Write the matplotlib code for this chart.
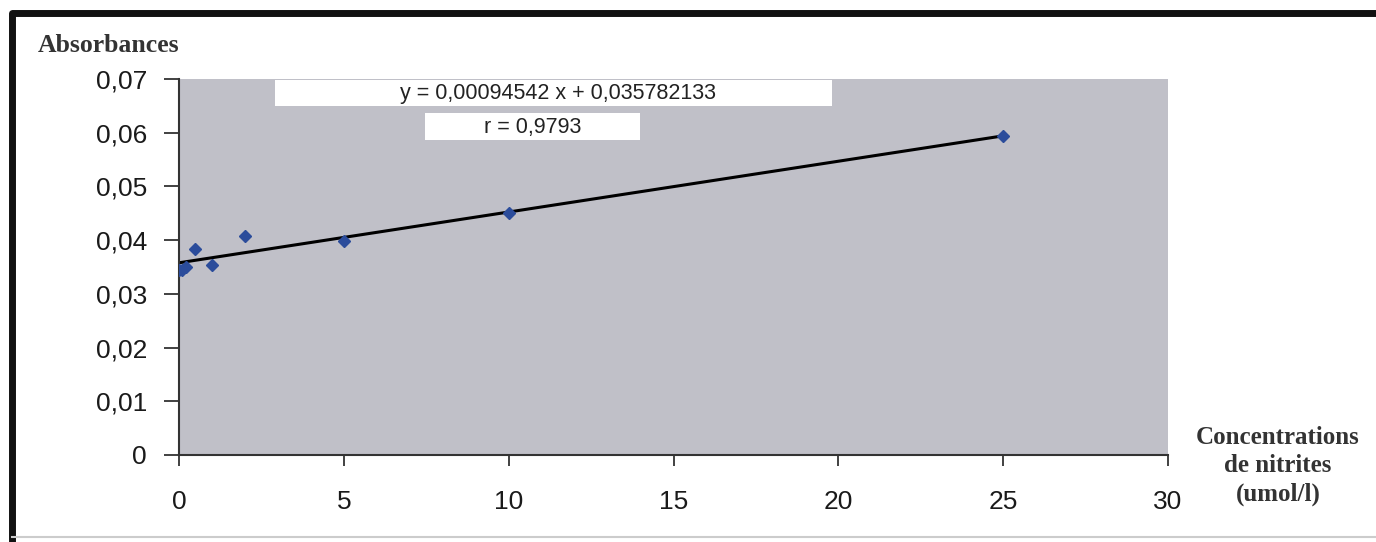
import matplotlib.pyplot as plt
import matplotlib.lines as mlines
import numpy as np

# data
conc = [0, 0.1, 0.2, 0.5, 1, 2, 5, 10, 25]
absorb = [0.0345, 0.0345, 0.035, 0.0383, 0.0354, 0.0408, 0.0399, 0.0451, 0.0594]
slope = 0.00094542
intercept = 0.035782133
r_value = "0,9793"
xticks = [0, 5, 10, 15, 20, 25, 30]
yticks = [0, 0.01, 0.02, 0.03, 0.04, 0.05, 0.06, 0.07]

fig = plt.figure(figsize=(13.76, 5.42), dpi=100)
ax = fig.add_axes([179/1376, 1-455/542, (1168-179)/1376, (455-79)/542])
ax.set_facecolor("#c0c0c8")

xfit = np.array([0, 25])
ax.plot(xfit, slope*xfit + intercept, color="black", lw=2.2, zorder=2)
ax.plot(conc, absorb, ls="none", marker="D", ms=6, color="#2b4c9b", zorder=3)

ax.set_xlim(0, 30)
ax.set_ylim(0, 0.07)
ax.set_xticks(xticks)
ax.set_yticks(yticks)
ax.set_xticklabels([str(t) for t in xticks])
ax.set_yticklabels(["0"] + [("%.2f" % t).replace(".", ",") for t in yticks[1:]])
ax.tick_params(direction="out", width=1.3, labelsize=19, color="#333333")
ax.tick_params(axis="x", length=8, pad=17)
ax.tick_params(axis="y", length=11, pad=12)
for lab in ax.get_xticklabels() + ax.get_yticklabels():
	lab.set_family("Liberation Sans")
	lab.set_color("#1a1a1a")
for s in ["top", "right"]:
	ax.spines[s].set_visible(False)
for s in ["left", "bottom"]:
	ax.spines[s].set_color("#333333")
	ax.spines[s].set_linewidth(1.5)

# equation boxes
fig.patches.append(plt.Rectangle((275/1376, 1-106/542), 557/1376, 26/542, transform=fig.transFigure,
	fc="white", ec="none", zorder=5))
fig.patches.append(plt.Rectangle((425/1376, 1-140/542), 215/1376, 27/542, transform=fig.transFigure,
	fc="white", ec="none", zorder=5))
eqfont = "Liberation Sans"
fig.text(558/1376, 1-94/542, "y = " + ("%.8f" % slope).replace(".", ",") + " x + " + ("%.9f" % intercept).replace(".", ","),
	ha="center", va="center", fontsize=15.5, family=eqfont, color="#222222", zorder=6)
fig.text(533/1376, 1-128/542, "r = " + r_value, ha="center", va="center", fontsize=15.5,
	family=eqfont, color="#222222", zorder=6)

fig.text(38/1376, 1-46/542, "Absorbances", ha="left", va="center", fontsize=18.5,
	family="Liberation Serif", weight="bold", color="#333333")
fig.text(1278/1376, 1-466/542, "Concentrations\nde nitrites\n(umol/l)", ha="center", va="center",
	fontsize=18, family="Liberation Serif", weight="bold", color="#333333", linespacing=1.32)

# outer frame
fig.lines.append(mlines.Line2D([12/1376, 12/1376, 1], [0, 1-13/542, 1-13/542], transform=fig.transFigure,
	color="#111111", lw=5))
fig.lines.append(mlines.Line2D([12/1376, 1], [1-537/542, 1-537/542], transform=fig.transFigure,
	color="#cccccc", lw=1.5))

plt.savefig("out.png")
